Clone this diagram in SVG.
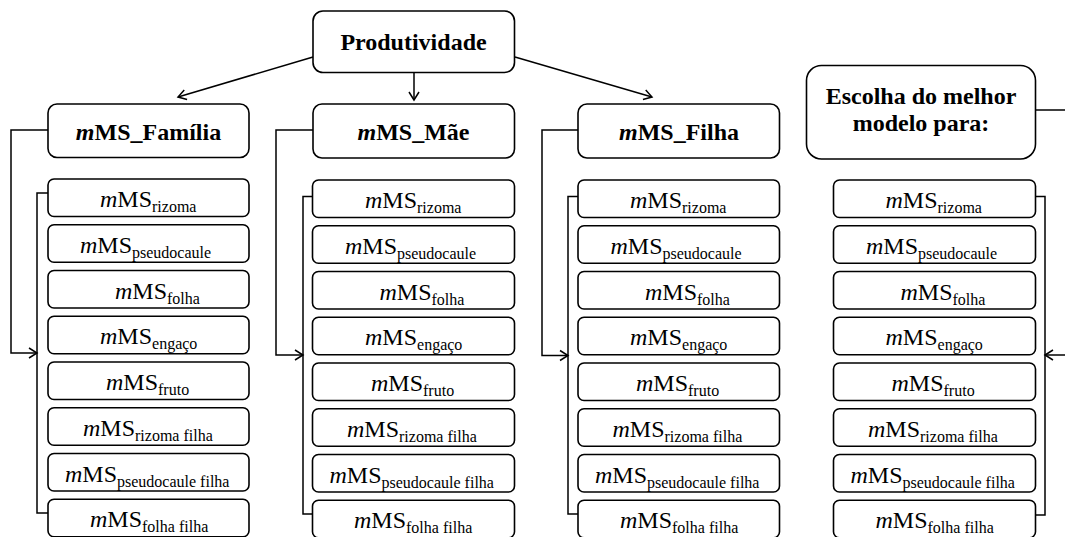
<svg xmlns="http://www.w3.org/2000/svg" width="1065" height="537" viewBox="0 0 1065 537">
<style>
.box{fill:#fff;stroke:#000;stroke-width:1.6}
.ln{fill:none;stroke:#000;stroke-width:1.5}
.h{font-family:"Liberation Serif",serif;font-weight:bold;font-size:24px;fill:#000;text-anchor:middle}
.t{font-family:"Liberation Serif",serif;font-size:24px;fill:#000}
.s{font-size:16px}
.i{font-style:italic}
</style>
<defs>
<marker id="ah" markerUnits="userSpaceOnUse" markerWidth="14" markerHeight="14" viewBox="-10 -7 12 14" refX="0" refY="0" orient="auto">
<path d="M-8,-5 L0,0 L-8,5" fill="none" stroke="#000" stroke-width="1.5"/>
</marker>
</defs>

<g id="connectors">
<path class="ln" d="M313,57 L178,97" marker-end="url(#ah)"/>
<path class="ln" d="M414,72.5 L414,100" marker-end="url(#ah)"/>
<path class="ln" d="M515,57 L652,97" marker-end="url(#ah)"/>
<path class="ln" d="M48,130 H11 V353 H37" marker-end="url(#ah)"/>
<path class="ln" d="M48,193 H37 V513 H48"/>
<path class="ln" d="M313,130 H276 V355 H303" marker-end="url(#ah)"/>
<path class="ln" d="M312.5,196.5 H303 V514 H312.5"/>
<path class="ln" d="M578,130 H542 V355.5 H568" marker-end="url(#ah)"/>
<path class="ln" d="M578,196.5 H568 V514 H578"/>
<path class="ln" d="M1036,110 H1066"/>
<path class="ln" d="M1066,355 H1045" marker-end="url(#ah)"/>
<path class="ln" d="M1035.5,196.5 H1045 V515 H1035.5"/>
</g>

<g id="produtividade">
<rect class="box" x="313" y="11" width="201.5" height="61.5" rx="10"/>
<text class="h" x="413.5" y="50">Produtividade</text>
</g>
<g id="mms-familia">
<rect class="box" x="48" y="104" width="201" height="53.5" rx="9"/>
<text class="h" x="148.5" y="140"><tspan class="i">m</tspan>MS_Família</text>
</g>
<g id="mms-mae">
<rect class="box" x="313" y="104" width="201.5" height="54" rx="9"/>
<text class="h" x="413.5" y="140"><tspan class="i">m</tspan>MS_Mãe</text>
</g>
<g id="mms-filha">
<rect class="box" x="578" y="104" width="201.5" height="54" rx="9"/>
<text class="h" x="679" y="140"><tspan class="i">m</tspan>MS_Filha</text>
</g>
<g id="escolha">
<rect class="box" x="806.5" y="65.5" width="229" height="93.5" rx="15"/>
<text class="h" x="921" y="104">Escolha do melhor</text>
<text class="h" x="921" y="131">modelo para:</text>
</g>

<!-- column 1 -->
<g id="c1-rizoma"><rect class="box" x="48" y="179" width="201" height="37.5" rx="6"/><text class="t" x="100" y="207"><tspan class="i">m</tspan>MS<tspan class="s" dy="5">rizoma</tspan></text></g>
<g id="c1-pseudocaule"><rect class="box" x="48" y="224.75" width="201" height="37.5" rx="6"/><text class="t" x="80" y="252.75"><tspan class="i">m</tspan>MS<tspan class="s" dy="5">pseudocaule</tspan></text></g>
<g id="c1-folha"><rect class="box" x="48" y="270.5" width="201" height="37.5" rx="6"/><text class="t" x="115" y="298.5"><tspan class="i">m</tspan>MS<tspan class="s" dy="5">folha</tspan></text></g>
<g id="c1-engaco"><rect class="box" x="48" y="316.25" width="201" height="37.5" rx="6"/><text class="t" x="100" y="344.25"><tspan class="i">m</tspan>MS<tspan class="s" dy="5">engaço</tspan></text></g>
<g id="c1-fruto"><rect class="box" x="48" y="362" width="201" height="37.5" rx="6"/><text class="t" x="106" y="390"><tspan class="i">m</tspan>MS<tspan class="s" dy="5">fruto</tspan></text></g>
<g id="c1-rizoma-filha"><rect class="box" x="48" y="407.75" width="201" height="37.5" rx="6"/><text class="t" x="83" y="435.75"><tspan class="i">m</tspan>MS<tspan class="s" dy="5">rizoma filha</tspan></text></g>
<g id="c1-pseudocaule-filha"><rect class="box" x="48" y="453.5" width="201" height="37.5" rx="6"/><text class="t" x="65" y="481.5"><tspan class="i">m</tspan>MS<tspan class="s" dy="5">pseudocaule filha</tspan></text></g>
<g id="c1-folha-filha"><rect class="box" x="48" y="499.25" width="201" height="37.5" rx="6"/><text class="t" x="90" y="527.25"><tspan class="i">m</tspan>MS<tspan class="s" dy="5">folha filha</tspan></text></g>

<!-- column 2 -->
<g id="c2-rizoma"><rect class="box" x="312.5" y="180" width="202" height="37.5" rx="6"/><text class="t" x="365" y="208"><tspan class="i">m</tspan>MS<tspan class="s" dy="5">rizoma</tspan></text></g>
<g id="c2-pseudocaule"><rect class="box" x="312.5" y="225.75" width="202" height="37.5" rx="6"/><text class="t" x="345" y="253.75"><tspan class="i">m</tspan>MS<tspan class="s" dy="5">pseudocaule</tspan></text></g>
<g id="c2-folha"><rect class="box" x="312.5" y="271.5" width="202" height="37.5" rx="6"/><text class="t" x="379.5" y="299.5"><tspan class="i">m</tspan>MS<tspan class="s" dy="5">folha</tspan></text></g>
<g id="c2-engaco"><rect class="box" x="312.5" y="317.25" width="202" height="37.5" rx="6"/><text class="t" x="365" y="345.25"><tspan class="i">m</tspan>MS<tspan class="s" dy="5">engaço</tspan></text></g>
<g id="c2-fruto"><rect class="box" x="312.5" y="363" width="202" height="37.5" rx="6"/><text class="t" x="371" y="391"><tspan class="i">m</tspan>MS<tspan class="s" dy="5">fruto</tspan></text></g>
<g id="c2-rizoma-filha"><rect class="box" x="312.5" y="408.75" width="202" height="37.5" rx="6"/><text class="t" x="347" y="436.75"><tspan class="i">m</tspan>MS<tspan class="s" dy="5">rizoma filha</tspan></text></g>
<g id="c2-pseudocaule-filha"><rect class="box" x="312.5" y="454.5" width="202" height="37.5" rx="6"/><text class="t" x="329.5" y="482.5"><tspan class="i">m</tspan>MS<tspan class="s" dy="5">pseudocaule filha</tspan></text></g>
<g id="c2-folha-filha"><rect class="box" x="312.5" y="500.25" width="202" height="37.5" rx="6"/><text class="t" x="354" y="528.25"><tspan class="i">m</tspan>MS<tspan class="s" dy="5">folha filha</tspan></text></g>

<!-- column 3 -->
<g id="c3-rizoma"><rect class="box" x="578" y="180" width="201.5" height="37.5" rx="6"/><text class="t" x="630" y="208"><tspan class="i">m</tspan>MS<tspan class="s" dy="5">rizoma</tspan></text></g>
<g id="c3-pseudocaule"><rect class="box" x="578" y="225.75" width="201.5" height="37.5" rx="6"/><text class="t" x="610.5" y="253.75"><tspan class="i">m</tspan>MS<tspan class="s" dy="5">pseudocaule</tspan></text></g>
<g id="c3-folha"><rect class="box" x="578" y="271.5" width="201.5" height="37.5" rx="6"/><text class="t" x="645" y="299.5"><tspan class="i">m</tspan>MS<tspan class="s" dy="5">folha</tspan></text></g>
<g id="c3-engaco"><rect class="box" x="578" y="317.25" width="201.5" height="37.5" rx="6"/><text class="t" x="630" y="345.25"><tspan class="i">m</tspan>MS<tspan class="s" dy="5">engaço</tspan></text></g>
<g id="c3-fruto"><rect class="box" x="578" y="363" width="201.5" height="37.5" rx="6"/><text class="t" x="636" y="391"><tspan class="i">m</tspan>MS<tspan class="s" dy="5">fruto</tspan></text></g>
<g id="c3-rizoma-filha"><rect class="box" x="578" y="408.75" width="201.5" height="37.5" rx="6"/><text class="t" x="612.5" y="436.75"><tspan class="i">m</tspan>MS<tspan class="s" dy="5">rizoma filha</tspan></text></g>
<g id="c3-pseudocaule-filha"><rect class="box" x="578" y="454.5" width="201.5" height="37.5" rx="6"/><text class="t" x="595" y="482.5"><tspan class="i">m</tspan>MS<tspan class="s" dy="5">pseudocaule filha</tspan></text></g>
<g id="c3-folha-filha"><rect class="box" x="578" y="500.25" width="201.5" height="37.5" rx="6"/><text class="t" x="620" y="528.25"><tspan class="i">m</tspan>MS<tspan class="s" dy="5">folha filha</tspan></text></g>

<!-- column 4 -->
<g id="c4-rizoma"><rect class="box" x="833.5" y="180" width="202" height="37.5" rx="6"/><text class="t" x="885.5" y="208"><tspan class="i">m</tspan>MS<tspan class="s" dy="5">rizoma</tspan></text></g>
<g id="c4-pseudocaule"><rect class="box" x="833.5" y="225.75" width="202" height="37.5" rx="6"/><text class="t" x="866" y="253.75"><tspan class="i">m</tspan>MS<tspan class="s" dy="5">pseudocaule</tspan></text></g>
<g id="c4-folha"><rect class="box" x="833.5" y="271.5" width="202" height="37.5" rx="6"/><text class="t" x="900.5" y="299.5"><tspan class="i">m</tspan>MS<tspan class="s" dy="5">folha</tspan></text></g>
<g id="c4-engaco"><rect class="box" x="833.5" y="317.25" width="202" height="37.5" rx="6"/><text class="t" x="885.5" y="345.25"><tspan class="i">m</tspan>MS<tspan class="s" dy="5">engaço</tspan></text></g>
<g id="c4-fruto"><rect class="box" x="833.5" y="363" width="202" height="37.5" rx="6"/><text class="t" x="891.5" y="391"><tspan class="i">m</tspan>MS<tspan class="s" dy="5">fruto</tspan></text></g>
<g id="c4-rizoma-filha"><rect class="box" x="833.5" y="408.75" width="202" height="37.5" rx="6"/><text class="t" x="868" y="436.75"><tspan class="i">m</tspan>MS<tspan class="s" dy="5">rizoma filha</tspan></text></g>
<g id="c4-pseudocaule-filha"><rect class="box" x="833.5" y="454.5" width="202" height="37.5" rx="6"/><text class="t" x="850.5" y="482.5"><tspan class="i">m</tspan>MS<tspan class="s" dy="5">pseudocaule filha</tspan></text></g>
<g id="c4-folha-filha"><rect class="box" x="833.5" y="500.25" width="202" height="37.5" rx="6"/><text class="t" x="875.5" y="528.25"><tspan class="i">m</tspan>MS<tspan class="s" dy="5">folha filha</tspan></text></g>
</svg>
